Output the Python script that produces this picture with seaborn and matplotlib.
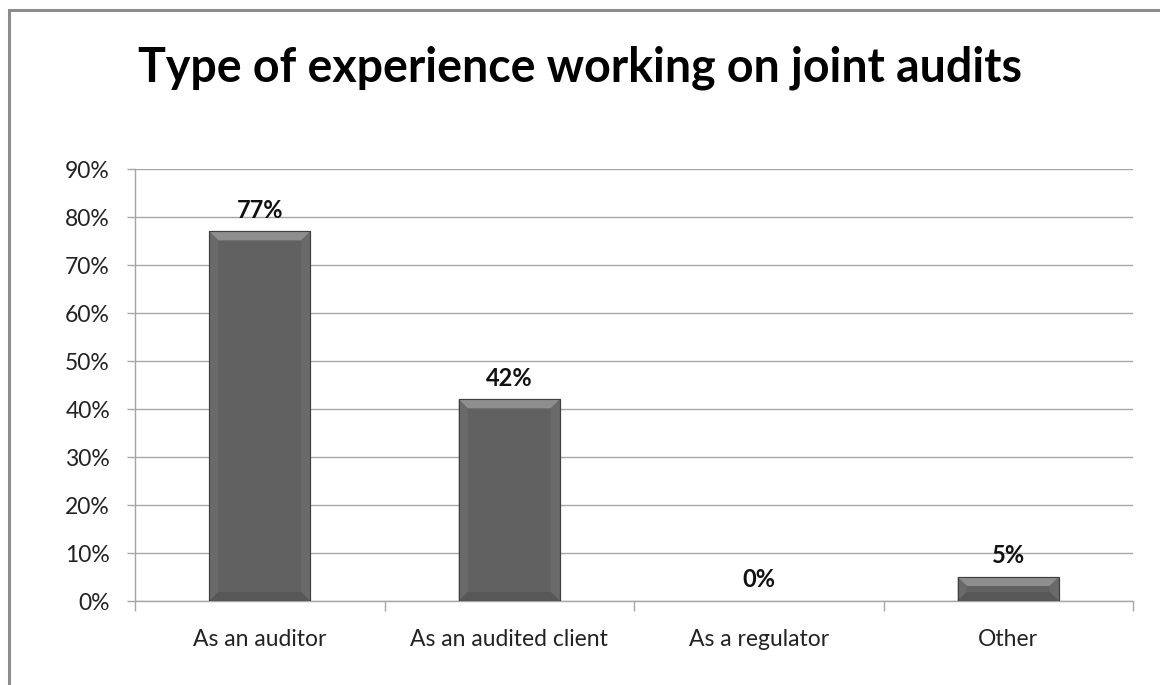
import matplotlib
matplotlib.use("Agg")
import matplotlib.pyplot as plt
from matplotlib.patches import Polygon, Rectangle
from matplotlib.ticker import FixedLocator
import seaborn as sns
import pandas as pd

categories = ["As an auditor", "As an audited client", "As a regulator", "Other"]
shares = [77, 42, 0, 5]
y_ticks = [0, 10, 20, 30, 40, 50, 60, 70, 80, 90]
y_labels = [f"{v}%" for v in y_ticks]
title = "Type of experience working on joint audits"

sns.set_theme(style="white")
plt.rcParams["font.family"] = ["Lato", "DejaVu Sans"]

df = pd.DataFrame({"category": categories, "share": shares})

fig = plt.figure(figsize=(11.6, 6.85), dpi=100)
ax = fig.add_axes([135 / 1160, 1 - 601 / 685, 998 / 1160, 432 / 685])

sns.barplot(data=df, x="category", y="share", color="#616161", width=0.405,
            saturation=1, ax=ax, zorder=3, edgecolor="#404040", linewidth=0.8)

ax.set_xlim(-0.5, len(categories) - 0.5)
ax.set_ylim(0, 90)
ax.set_yticks(y_ticks)
ax.set_yticklabels(y_labels, fontsize=16.5, color="#222222")
ax.yaxis.grid(True, color="#a6a6a6", linewidth=1.0, zorder=0)
ax.set_axisbelow(True)
ax.set_xlabel("")
ax.set_ylabel("")
ax.tick_params(axis="x", which="major", length=0, pad=20, labelsize=16.5, labelcolor="#222222")
ax.tick_params(axis="y", which="major", length=6, width=1, color="#a6a6a6", pad=12, left=True)
ax.xaxis.set_minor_locator(FixedLocator([i - 0.5 for i in range(len(categories) + 1)]))
ax.tick_params(axis="x", which="minor", length=7, width=1, color="#a6a6a6", bottom=True)
for side in ("top", "right"):
    ax.spines[side].set_visible(False)
for side in ("left", "bottom"):
    ax.spines[side].set_color("#a6a6a6")
    ax.spines[side].set_linewidth(1.0)

# bevelled look for each bar, derived from the bar geometry
fig.canvas.draw()
px_x = (ax.get_xlim()[1] - ax.get_xlim()[0]) / ax.bbox.width
px_y = (ax.get_ylim()[1] - ax.get_ylim()[0]) / ax.bbox.height
for patch in ax.patches:
    x0, y0 = patch.get_x(), patch.get_y()
    w, h = patch.get_width(), patch.get_height()
    if h <= 0:
        patch.set_visible(False)
        continue
    dx = min(9 * px_x, w / 4)
    dy = min(9 * px_y, h / 2.5)
    x1, y1 = x0 + w, y0 + h
    top = Polygon([(x0, y1), (x1, y1), (x1 - dx, y1 - dy), (x0 + dx, y1 - dy)],
                  closed=True, facecolor="#8e8e8e", edgecolor="none", zorder=4)
    left = Polygon([(x0, y0), (x0, y1), (x0 + dx, y1 - dy), (x0 + dx, y0 + dy)],
                   closed=True, facecolor="#6a6a6a", edgecolor="none", zorder=4)
    right = Polygon([(x1, y0), (x1, y1), (x1 - dx, y1 - dy), (x1 - dx, y0 + dy)],
                    closed=True, facecolor="#6a6a6a", edgecolor="none", zorder=4)
    bottom = Polygon([(x0, y0), (x1, y0), (x1 - dx, y0 + dy), (x0 + dx, y0 + dy)],
                     closed=True, facecolor="#575757", edgecolor="none", zorder=4)
    for p in (top, left, right, bottom):
        ax.add_patch(p)
    ax.add_patch(Rectangle((x0, y0), w, h, facecolor="none", edgecolor="#404040",
                           linewidth=0.8, zorder=5))

for i, v in enumerate(shares):
    ax.annotate(f"{v}%", xy=(i, v), xytext=(0, 7), textcoords="offset points",
                ha="center", va="bottom", fontsize=17, fontweight="bold",
                color="#111111", zorder=6)

fig.text(580 / 1160, 1 - 68 / 685, title, ha="center", va="center",
         fontsize=33.5, fontweight="bold", color="#000000")

# outer chart border
fig.add_artist(Rectangle((9 / 1160, -0.05), 1.1, 1 - 10 / 685 + 0.05,
                         transform=fig.transFigure, facecolor="none",
                         edgecolor="#8c8c8c", linewidth=2.2, clip_on=False))

fig.savefig("out.png", dpi=100, facecolor="white")
